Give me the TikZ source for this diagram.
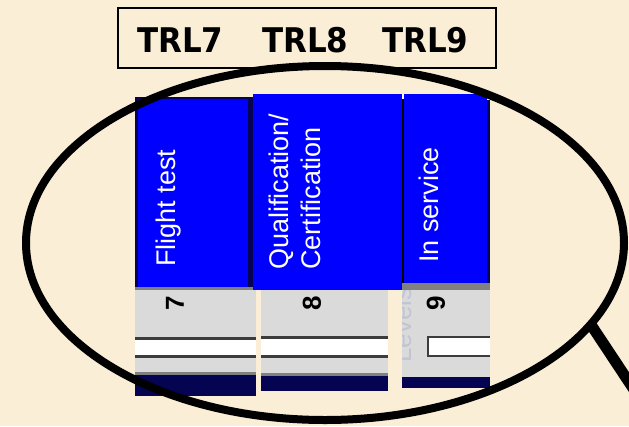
\documentclass[tikz,border=0pt]{standalone}
\usepackage{fontspec}
\setmainfont{Liberation Sans}
\newfontfamily\trlfont{DejaVu Sans}
\usetikzlibrary{shapes.geometric}

\definecolor{parchment}{RGB}{250,239,214}
\definecolor{panelblue}{RGB}{0,0,255}
\definecolor{panelnavy}{RGB}{4,4,82}
\definecolor{panelgrey}{RGB}{218,218,218}
\definecolor{rulegrey}{RGB}{128,128,128}
\definecolor{stripline}{RGB}{60,60,60}
\definecolor{fadedlabel}{RGB}{192,197,212}

\tikzset{
  phasetext/.style={text=white, font=\fontsize{27}{32}\selectfont,
    rotate=90, anchor=base west, inner sep=0pt},
  digitlabel/.style={text=black, font=\bfseries\fontsize{26}{30}\selectfont,
    rotate=90, inner sep=0pt},
  fadedtext/.style={text=fadedlabel, font=\fontsize{26}{30}\selectfont,
    rotate=90, anchor=base west, inner sep=0pt},
  trltext/.style={font=\trlfont\bfseries\fontsize{34}{40}\selectfont,
    xscale=0.91, anchor=base west, inner sep=0pt},
  trlframe/.style={draw=black, line width=2pt, minimum width=378pt,
    minimum height=60pt, inner sep=0pt},
  lensring/.style={ellipse, draw=black, line width=8pt, minimum width=598pt,
    minimum height=354pt, inner sep=0pt, outer sep=0pt},
  lenshandle/.style={draw=black, line width=11pt}
}

\begin{document}
\begin{tikzpicture}[x=1pt,y=-1pt]
\useasboundingbox (0,0) rectangle (629,426);
\clip (0,0) rectangle (629,426);
\fill[parchment] (0,0) rectangle (629,426);

% column 1: flight test
\fill[panelnavy] (135,97) rectangle (253,287);
\fill[panelblue] (138,99) rectangle (248,287);
\fill[rulegrey] (135,287) rectangle (256,290);
\fill[panelgrey] (135,290) rectangle (256,375);
\fill[stripline] (135,337) rectangle (256,358);
\fill[white] (135,340) rectangle (256,355);
\fill[rulegrey] (135,372) rectangle (256,375);
\fill[panelnavy] (135,375) rectangle (256,396);

% column 2: qualification / certification
\fill[panelgrey] (261,290) rectangle (388,376);
\fill[stripline] (261,336) rectangle (388,358);
\fill[white] (261,339) rectangle (388,355);
\fill[rulegrey] (261,373) rectangle (388,376);
\fill[panelnavy] (261,376) rectangle (388,391);
\fill[panelblue] (253,94) rectangle (402,290);

% column 3: in service
\fill[white] (402,94) rectangle (404,99);
\fill[black] (402,99) rectangle (404,283);
\fill[panelblue] (404,94) rectangle (487,283);
\fill[white] (487,94) rectangle (490,100);
\fill[panelnavy] (487,100) rectangle (490,290);
\fill[rulegrey] (402,283) rectangle (490,290);
\fill[panelgrey] (402,290) rectangle (490,377);
\begin{scope}
  \clip (402,290) rectangle (490,377);
  \node[fadedtext] (levels) at (411,363) {Levels};
\end{scope}
\fill[stripline] (427,336) rectangle (490,357);
\fill[white] (429,338) rectangle (490,355);
\fill[panelnavy] (402,377) rectangle (490,388);

% phase names
\node[phasetext] (flight) at (175,267) {Flight test};
\node[phasetext] (qual) at (288,270) {Qualification/};
\node[phasetext] (cert) at (320,270) {Certification};
\node[phasetext] (inservice) at (438,263) {In service};

% level numbers
\node[digitlabel] (lvlseven) at (175,303) {7};
\node[digitlabel] (lvleight) at (312,303) {8};
\node[digitlabel] (lvlnine) at (436,303) {9};

% TRL heading
\node[trlframe] (trlbox) at (307,38) {};
\node[trltext] (trlseven) at (137,52) {TRL7};
\node[trltext] (trleight) at (262,52) {TRL8};
\node[trltext] (trlnine) at (382,52) {TRL9};

% magnifying glass
\node[lensring] (lens) at (325,243) {};
\coordinate (handleend) at (662,432);
\draw[lenshandle] (lens.-17) -- (handleend);
\end{tikzpicture}
\end{document}
